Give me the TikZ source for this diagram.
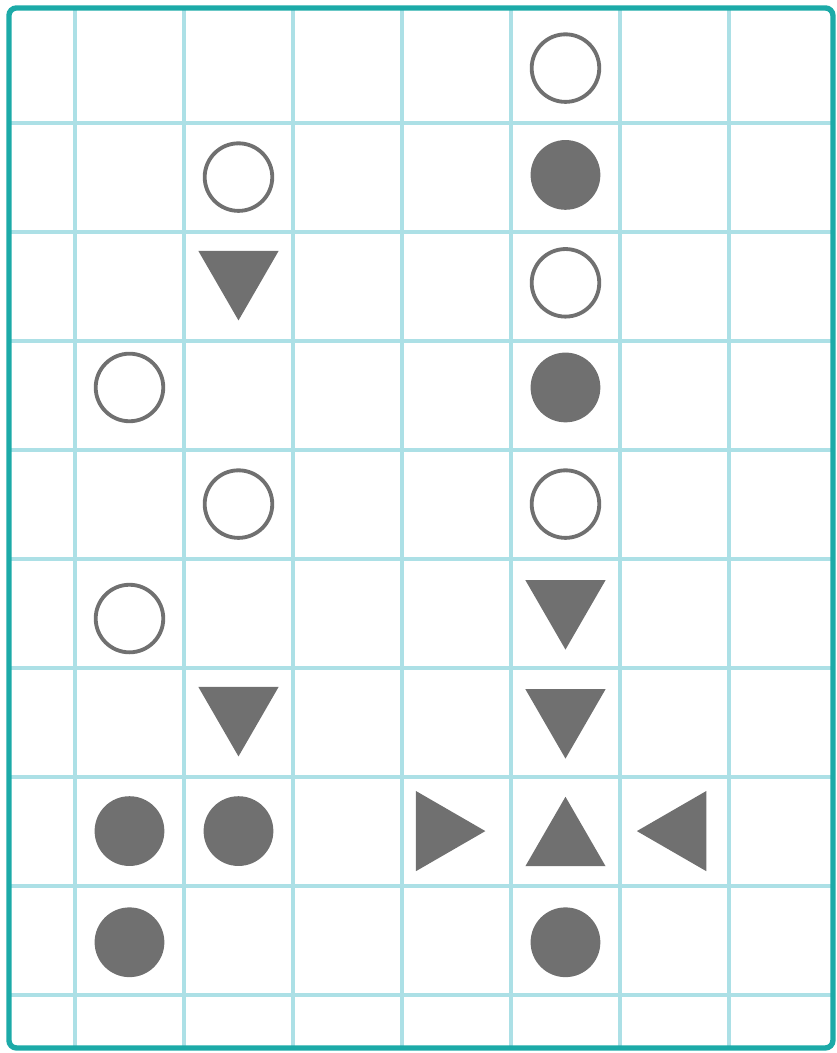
\documentclass[tikz,border=0pt]{standalone}
\usepackage{xcolor}
\usepackage{tikz}
\usetikzlibrary{shapes.geometric}

\definecolor{gridblue}{RGB}{172,224,230}
\definecolor{frameteal}{RGB}{28,170,168}
\definecolor{markgray}{RGB}{112,112,112}

\begin{document}
\begin{tikzpicture}[
    x=1cm, y=-1cm,
    gridline/.style={draw=gridblue, line width=1pt},
    boxframe/.style={draw=frameteal, line width=1.4pt, rounded corners=2pt},
    ring/.style={circle, draw=markgray, line width=1pt, fill=white, minimum size=6.2mm, inner sep=0pt},
    dot/.style={circle, fill=markgray, minimum size=6.4mm, inner sep=0pt},
    tri/.style={regular polygon, regular polygon sides=3, fill=markgray, minimum size=8.5mm, inner sep=0pt},
    tridown/.style={tri, shape border rotate=180, yshift=1.1mm},
    triup/.style={tri, yshift=-1.1mm},
    trileft/.style={tri, shape border rotate=90, xshift=1.1mm},
    triright/.style={tri, shape border rotate=-90, xshift=-1.1mm}
]
\useasboundingbox (-0.688,-1.125) rectangle (6.982,8.536);

% grid
\foreach \i in {0,...,6} \draw[gridline] (\i,-1.052) -- (\i,8.49);
\foreach \j in {0,...,8} \draw[gridline] (-0.606,\j) -- (6.954,\j);
\draw[boxframe] (-0.606,-1.052) rectangle (6.954,8.49);

% left columns
\node[ring] (ringb1) at (1.5,0.5) {};
\node[tridown] (downb2) at (1.5,1.5) {};
\node[ring] (ringa3) at (0.5,2.43) {};
\node[ring] (ringb4) at (1.5,3.5) {};
\node[ring] (ringa5) at (0.5,4.55) {};
\node[tridown] (downb6) at (1.5,5.5) {};
\node[dot] (dota7) at (0.5,6.5) {};
\node[dot] (dotb7) at (1.5,6.5) {};
\node[dot] (dota8) at (0.5,7.52) {};

% right column
\node[ring] (ringe0) at (4.5,-0.5) {};
\node[dot] (dote1) at (4.5,0.48) {};
\node[ring] (ringe2) at (4.5,1.47) {};
\node[dot] (dote3) at (4.5,2.43) {};
\node[ring] (ringe4) at (4.5,3.5) {};
\node[tridown] (downe5) at (4.5,4.52) {};
\node[tridown] (downe6) at (4.5,5.52) {};
\node[triup] (upe7) at (4.5,6.5) {};
\node[triright] (rightd7) at (3.45,6.5) {};
\node[trileft] (leftf7) at (5.47,6.5) {};
\node[dot] (dote8) at (4.5,7.52) {};
\end{tikzpicture}
\end{document}
